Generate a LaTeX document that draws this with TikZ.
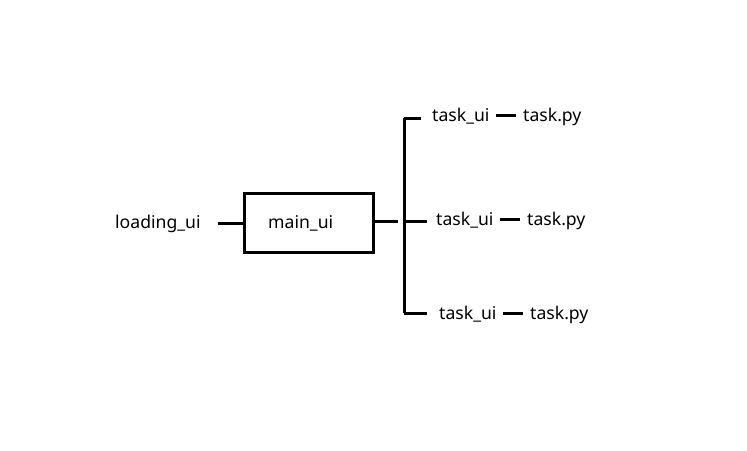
\documentclass[tikz,border=0pt]{standalone}
\usepackage{fontspec}
\setmainfont{Noto Sans}
\usetikzlibrary{positioning}
\tikzset{
  link/.style={line width=3pt}, % all connectors are plain thick lines
  item/.style={font=\fontsize{17.6}{20}\selectfont, inner sep=0pt, anchor=base west}, % plain text entries
  uibox/.style={draw, line width=3pt, minimum width=129pt, minimum height=59pt}, % the boxed window
}
\begin{document}
\begin{tikzpicture}[x=1pt, y=-1pt]
  \useasboundingbox (0,0) rectangle (747,450);
  % left part
  \node[item] (loading) at (115,228) {loading\_ui};
  \node[uibox] (main) at (309,223) {};
  \node[item] (mainlabel) at (268,228) {main\_ui};
  \draw[link] ([xshift=17pt]loading.east |- main.west) -- (main.west);
  % fork to the tasks
  \coordinate (joint) at (398,221);
  \coordinate (trunktop) at (404,118);
  \coordinate (trunkbot) at (404,313);
  \draw[link] (main.east |- joint) -- (joint);
  \draw[link] (trunktop) -- (trunkbot);
  \foreach \n/\y/\stub/\tx/\base/\px in {a/118/421/432/121/523, b/221/427/436/225/527, c/313/427/439/319/530} {
    \coordinate (stub\n) at (\stub,\y);
    \draw[link] (trunktop |- stub\n) -- (stub\n);
    \node[item] (ui\n) at (\tx,\base) {task\_ui};
    \node[item] (py\n) at (\px,\base) {task.py};
    \draw[link, shorten <=6pt, shorten >=7pt] (ui\n.east) -- (ui\n.east -| py\n.west);
  }
\end{tikzpicture}
\end{document}
